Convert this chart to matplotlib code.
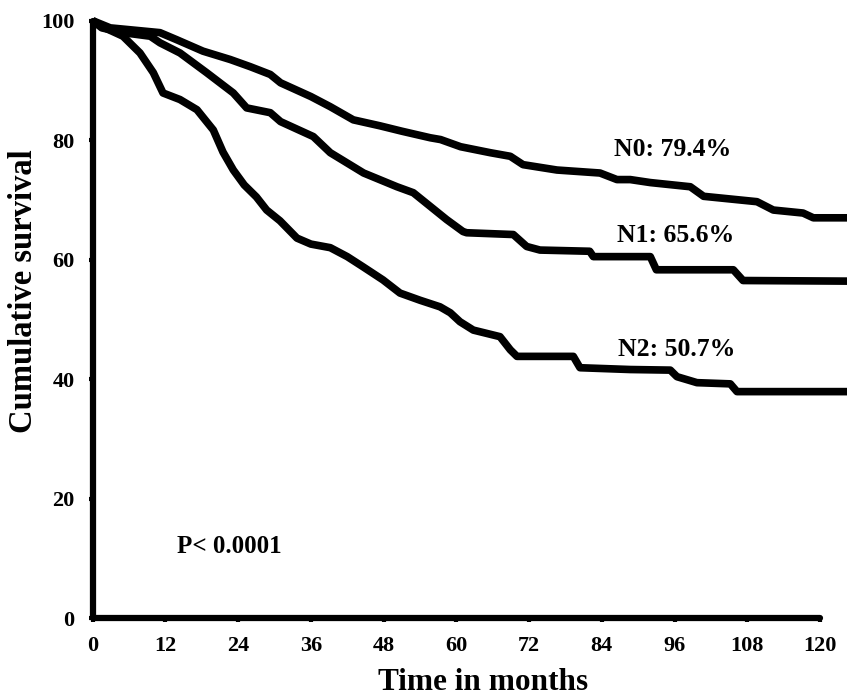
import matplotlib
matplotlib.use("Agg")
import matplotlib.pyplot as plt

# ---- data ----
n0_t = [0, 2.9, 11.1, 13.9, 18.2, 22.7, 26, 29.3, 31, 36, 39.2, 43, 47.4, 51, 55.7, 57.4,
        60.7, 65.6, 68.9, 71, 76.6, 83.7, 86.5, 88.7, 92, 98.6, 100.8, 109.6, 112.3, 117.2,
        118.9, 124.5]
n0_s = [100, 98.8, 98, 96.8, 94.9, 93.5, 92.3, 91, 89.6, 87.3, 85.6, 83.4, 82.4, 81.5, 80.4,
        80.1, 78.9, 77.9, 77.3, 75.9, 75.0, 74.5, 73.4, 73.4, 72.9, 72.2, 70.6, 69.7, 68.3,
        67.8, 67.0, 67.0]

n1_t = [0, 1.5, 5, 9.5, 11.1, 14.4, 18.8, 23.2, 25.4, 29.3, 31, 36.4, 39.2, 44.7, 50.2, 52.9,
        58.4, 61.1, 61.7, 69.4, 71.6, 73.8, 82, 82.6, 92, 93, 105.7, 107.3, 124.5]
n1_s = [100, 98.8, 98, 97.4, 96.3, 94.6, 91.3, 87.9, 85.4, 84.6, 83.1, 80.6, 77.9, 74.5, 72.2,
        71.2, 66.7, 64.7, 64.5, 64.2, 62.2, 61.6, 61.4, 60.5, 60.5, 58.3, 58.3, 56.5, 56.4]

n2_t = [0, 2, 5, 7.8, 10, 11.6, 14.4, 17.2, 19.9, 21.5, 23.2, 25, 27, 28.7, 30.9, 33.7, 36,
        39.2, 42, 44.6, 47.9, 50.7, 54, 57.3, 59, 60.6, 62.8, 67.2, 68.9, 70, 79.3, 80.4, 88.7,
        95.3, 96.4, 99.7, 105.2, 106.3, 124.5]
n2_s = [100, 98.8, 97.4, 94.6, 91.3, 87.9, 86.8, 85.1, 81.7, 78, 75, 72.5, 70.5, 68.3, 66.5,
        63.6, 62.6, 62, 60.5, 58.8, 56.6, 54.4, 53.2, 52.1, 51.1, 49.6, 48.2, 47.1, 44.9, 43.8,
        43.8, 41.9, 41.6, 41.5, 40.4, 39.4, 39.2, 37.9, 37.9]

labels = ["N0: 79.4%", "N1: 65.6%", "N2: 50.7%"]
label_x = [86, 86.5, 86.7]
label_y = [78.4, 64.0, 45.0]
xticks = [0, 12, 24, 36, 48, 60, 72, 84, 96, 108, 120]
yticks = [0, 20, 40, 60, 80, 100]

plt.rcParams['font.family'] = ['Liberation Serif', 'DejaVu Serif']
plt.rcParams['font.weight'] = 'bold'

W, H = 847, 698
fig = plt.figure(figsize=(W / 100, H / 100), dpi=100)
ax = fig.add_axes([92.7 / W, 1 - 618 / H, (820 - 92.7) / W, (618 - 20.7) / H])

for t, s in [(n0_t, n0_s), (n1_t, n1_s), (n2_t, n2_s)]:
    ax.plot(t, s, color='black', lw=5.5, solid_joinstyle='round',
            solid_capstyle='butt', clip_on=False)

for lab, x, y in zip(labels, label_x, label_y):
    ax.text(x, y, lab, fontsize=18.5, fontweight='bold', ha='left', va='center')

ax.text(13.9, 11.9, "P< 0.0001", fontsize=18, fontweight='bold', ha='left', va='center')

ax.set_xlim(0, 120)
ax.set_ylim(0, 100)
ax.set_xticks(xticks)
ax.set_yticks(yticks)
ax.set_xticklabels([str(v) for v in xticks], fontsize=16, fontweight='bold')
ax.set_yticklabels([str(v) for v in yticks], fontsize=16, fontweight='bold')
ax.tick_params(direction='out', length=3, width=3, pad=10)

for sp in ['top', 'right']:
    ax.spines[sp].set_visible(False)
for sp in ['left', 'bottom']:
    ax.spines[sp].set_linewidth(4.5)
    ax.spines[sp].set_capstyle('round')

fig.text(483.5 / W, 1 - 690 / H, "Time in months", fontsize=22.5, fontweight='bold',
         ha='center', va='baseline')
fig.text(24 / W, 1 - 291 / H, "Cumulative survival", fontsize=23.5, fontweight='bold',
         ha='center', va='center', rotation=90)

fig.savefig("out.png", dpi=100, facecolor='white')
